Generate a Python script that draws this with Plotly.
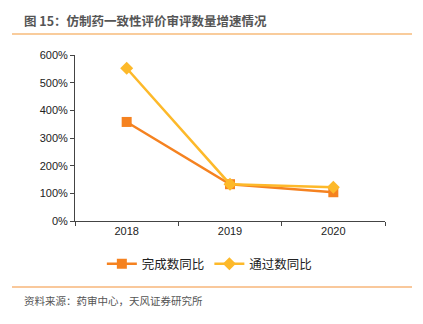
import plotly.graph_objects as go

years = ["2018", "2019", "2020"]
completed = [358, 133, 104]
passed = [552, 133, 122]
series_names = ["完成数同比", "通过数同比"]
yticks = [0, 100, 200, 300, 400, 500, 600]

fig = go.Figure()
fig.add_trace(go.Scatter(x=years, y=completed, name=series_names[0], mode="lines+markers",
                         line=dict(color="#F58220", width=2.5),
                         marker=dict(symbol="square", size=10, color="#F58220")))
fig.add_trace(go.Scatter(x=years, y=passed, name=series_names[1], mode="lines+markers",
                         line=dict(color="#FDB92A", width=2.5),
                         marker=dict(symbol="diamond", size=10, color="#FDB92A")))

font_family = "Noto Sans CJK SC, Liberation Sans, Arial, sans-serif"
fig.update_layout(
    width=423, height=324,
    margin=dict(l=75, r=38, t=55, b=103),
    paper_bgcolor="white", plot_bgcolor="white",
    font=dict(family=font_family, size=11, color="#222"),
    showlegend=True,
    legend=dict(orientation="h", x=0.435, xanchor="center", y=-0.26, yanchor="middle",
                font=dict(size=12.5, color="#222"), itemwidth=30, tracegroupgap=0),
    xaxis=dict(type="category", range=[-0.5, 2.5], showline=True, linecolor="#444", linewidth=1,
               ticks="outside", ticklen=4, tickcolor="#444", tickson="boundaries",
               showgrid=False, tickfont=dict(family="Liberation Sans, Arial", size=11, color="#222")),
    yaxis=dict(range=[0, 600], tickvals=yticks, ticktext=[f"{v}%" for v in yticks],
               showline=True, linecolor="#444", linewidth=1, ticks="outside", ticklen=4,
               tickcolor="#444", showgrid=False, zeroline=False,
               tickfont=dict(family="Liberation Sans, Arial", size=11, color="#222")),
    annotations=[
        dict(text="<b>图 15：仿制药一致性评价审评数量增速情况</b>", xref="paper", yref="paper",
             x=-53/310, y=1 + 35/166, xanchor="left", yanchor="middle", showarrow=False,
             font=dict(size=12.5, color="#555", family=font_family)),
        dict(text="资料来源：药审中心，天风证券研究所", xref="paper", yref="paper",
             x=-53/310, y=-79/166, xanchor="left", yanchor="middle", showarrow=False,
             font=dict(size=10.5, color="#555", family=font_family)),
    ],
    shapes=[
        dict(type="line", xref="paper", yref="paper", x0=-63/310, x1=337/310,
             y0=1 + 21/166, y1=1 + 21/166, line=dict(color="#F39A3B", width=1.2)),
        dict(type="line", xref="paper", yref="paper", x0=-63/310, x1=337/310,
             y0=-66/166, y1=-66/166, line=dict(color="#F9C89B", width=2)),
    ],
)

fig.write_html("out.html")
